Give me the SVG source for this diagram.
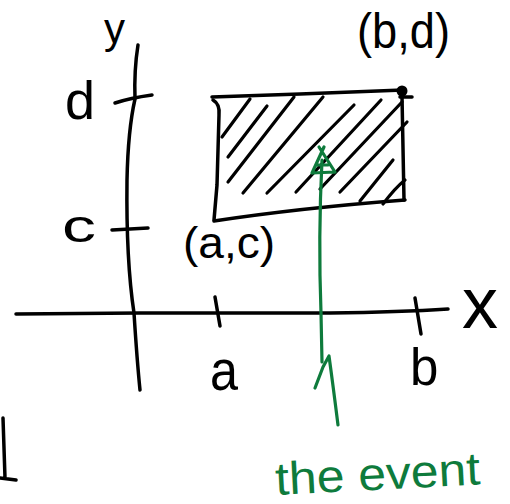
<svg xmlns="http://www.w3.org/2000/svg" width="510" height="504" viewBox="0 0 510 504">
<style>
.ink{fill:none;stroke:#000;stroke-width:3.5;stroke-linecap:round;stroke-linejoin:round}
.hatch{fill:none;stroke:#000;stroke-width:3.2;stroke-linecap:round}
.grn{fill:none;stroke:#0e7b3c;stroke-width:3.2;stroke-linecap:round;stroke-linejoin:round}
.lbl{font-family:"Liberation Sans",Arial,sans-serif;fill:#000}
.glbl{font-family:"Liberation Sans",Arial,sans-serif;fill:#0e7b3c}
</style>
<rect width="510" height="504" fill="#fff"/>
<g id="axes">
  <path class="ink" d="M138,45 Q134,70 135,99 Q128,130 127,180 Q126,260 134,313 Q137,360 140,390"/>
  <path class="ink" d="M16,314 L140,313 L330,313 Q400,312 448,309"/>
  <path class="ink" d="M115,103 Q130,98 152,95"/>
  <path class="ink" d="M112,230 L148,228"/>
  <path class="ink" d="M215,297 L220,326"/>
  <path class="ink" d="M415,298 L421,334"/>
  <path class="ink" d="M3,418 L5,478 M0,478 L16,480"/>
</g>
<g id="region">
  <path class="ink" d="M212,97 L300,94 L403,90 M400,97 L412,97"/>
  <path class="ink" d="M402,96 L404,200"/>
  <path class="ink" d="M214,221 Q300,208 405,200"/>
  <path class="ink" d="M213,100 Q220,104 219,115 L217,185 L214,220"/>
  <circle cx="402" cy="91" r="5.5" fill="#000"/>
  <path class="hatch" d="M250,99 L222,137 M267,106 L228,157 M294,97 L228,182 M323,97 L243,193 M354,105 L267,193 M381,100 L296,192 M402,102 L320,189 M407,122 L340,192 M393,160 L360,201 M383,204 Q395,188 405,180"/>
</g>
<g id="labels">
  <text class="lbl" x="104" y="43" font-size="42">y</text>
  <text class="lbl" x="65" y="119" font-size="54">d</text>
  <text class="lbl" x="62" y="242" font-size="46" textLength="34" lengthAdjust="spacingAndGlyphs">c</text>
  <text class="lbl" x="183" y="258" font-size="44" textLength="92" lengthAdjust="spacingAndGlyphs">(a,c)</text>
  <text class="lbl" x="357" y="48" font-size="50" textLength="93" lengthAdjust="spacingAndGlyphs">(b,d)</text>
  <text class="lbl" x="462" y="328" font-size="72">x</text>
  <text class="lbl" x="210" y="390" font-size="58" textLength="28" lengthAdjust="spacingAndGlyphs">a</text>
  <text class="lbl" x="410" y="385" font-size="51">b</text>
</g>
<g id="connectors">
  <path class="grn" d="M322,160 C320,200 319,260 321,313 L322,362"/>
  <path class="grn" d="M315,388 L323,367 L329,356 Q333,385 338,425"/>
  <path class="grn" d="M312,173 L335,172 M312,173 L324,147 M335,172 L319,147 M317,165 L328,165"/>
</g>
<g id="annotation">
  <text class="glbl" x="276" y="495" font-size="46" textLength="205" lengthAdjust="spacingAndGlyphs" transform="rotate(-3 276 495)">the event</text>
</g>
</svg>
